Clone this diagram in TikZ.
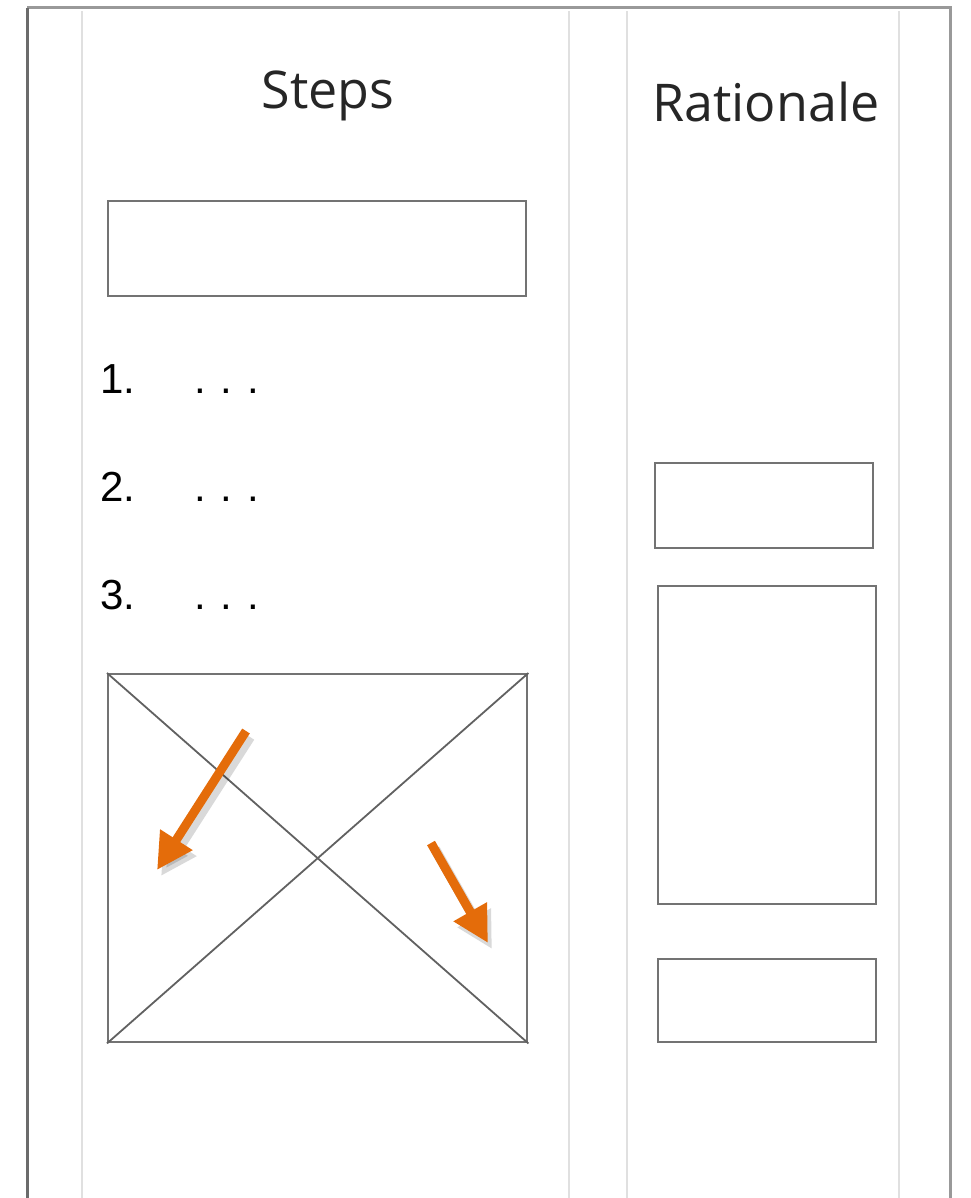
\documentclass[tikz,border=0pt]{standalone}
\usepackage{fontspec}
\setmainfont{Open Sans}
\newfontfamily\numfont{Liberation Sans}
\usepackage{xcolor}
\usetikzlibrary{positioning,arrows.meta}
\definecolor{arrorange}{HTML}{E46C0A}

\begin{document}
\begin{tikzpicture}[x=1pt,y=-1pt,
    frameln/.style={line width=3pt},
    colln/.style={draw=black!12,line width=2.5pt},
    box/.style={draw=black!55,line width=2.4pt,anchor=north west,inner sep=0pt},
    head/.style={font=\fontsize{52}{56}\selectfont,text=black!85},
    item/.style={font=\numfont\fontsize{42}{44}\selectfont,anchor=base west,inner sep=0pt},
    arr/.style={-{Triangle[length=36pt,width=36pt]},line width=9pt,draw=arrorange},
    shd/.style={-{Triangle[length=36pt,width=36pt]},line width=10pt,draw=black,opacity=0.15}
  ]
  \useasboundingbox (0,0) rectangle (970,1198);

  % swimlane frame
  \draw[frameln,draw=black!40] (27,8) -- (950,8) -- (950,1198);
  \draw[frameln,draw=black!58] (27,8) -- (27,1198);
  \foreach \x in {82,569,627,899}
    \draw[colln] (\x,11) -- (\x,1198);

  % headings
  \node[head] (steps) at (328,96) {Steps};
  \node[head] (rationale) at (766,102) {Rationale};

  % steps lane
  \node[box,minimum width=418pt,minimum height=95pt] (titlebox) at (107,200) {};
  \node[item] (n1) at (100,393) {1.};
  \node[item] (n2) at (100,501) {2.};
  \node[item] (n3) at (100,609) {3.};
  \foreach \i in {1,2,3}
    \node[item,anchor=base west,xshift=0pt] (d\i) at (194,0 |- n\i.base) {.\hspace{15pt}.\hspace{15pt}.};
  \node[box,minimum width=419pt,minimum height=368pt] (img) at (107,673) {};
  \draw[draw=black!62,line width=1.8pt] (img.north west) -- (img.south east);
  \draw[draw=black!62,line width=1.8pt] (img.south west) -- (img.north east);

  % orange arrows
  \coordinate (a1s) at (246,731);
  \coordinate (a1e) at (157,870);
  \coordinate (a2s) at (431,843);
  \coordinate (a2e) at (488,943);
  \draw[shd] ([shift={(4,6)}]a1s) -- ([shift={(4,6)}]a1e);
  \draw[shd] ([shift={(4,6)}]a2s) -- ([shift={(4,6)}]a2e);
  \draw[arr] (a1s) -- (a1e);
  \draw[arr] (a2s) -- (a2e);

  % rationale lane
  \node[box,minimum width=218pt,minimum height=85pt] (r1) at (654,462) {};
  \node[box,minimum width=218pt,minimum height=318pt] (r2) at (657,585) {};
  \node[box,minimum width=218pt,minimum height=83pt] (r3) at (657,958) {};
\end{tikzpicture}
\end{document}
